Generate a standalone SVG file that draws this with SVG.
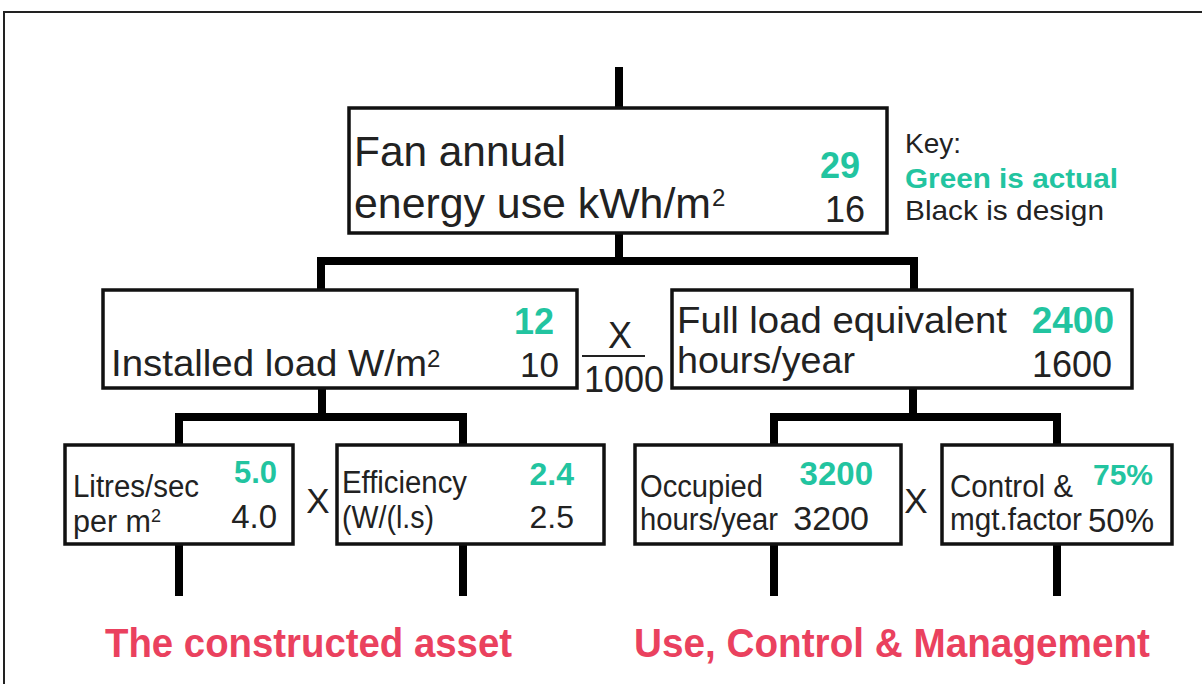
<svg xmlns="http://www.w3.org/2000/svg" width="1202" height="684" viewBox="0 0 1202 684">
<style>
text{font-family:"Liberation Sans",Arial,Helvetica,sans-serif;fill:#222}
.box{fill:#fff;stroke:#111;stroke-width:3.5}
.g{fill:#22C4A0;font-weight:bold}
.r{fill:#EA415E;font-weight:bold}
.end{text-anchor:end}
.conn{fill:none;stroke:#000;stroke-width:8;stroke-linejoin:miter;stroke-linecap:butt}
</style>
<rect width="1202" height="684" fill="#fff"/>
<path d="M4,684 V12 H1202" fill="none" stroke="#222" stroke-width="2"/>
<g id="connectors">
<path class="conn" d="M619,67 V108"/>
<path class="conn" d="M619,233 V261 M321,290 V261 H914 V290"/>
<path class="conn" d="M322,388 V417 M179,445 V417 H463 V445"/>
<path class="conn" d="M913,388 V417 M774,445 V417 H1057 V445"/>
<path class="conn" d="M179,544 V596 M463,544 V596 M774,544 V596 M1057,544 V596"/>
</g>
<g id="fan-annual">
<rect class="box" x="349" y="108" width="538" height="125"/>
<text x="354" y="166" font-size="43" textLength="212" lengthAdjust="spacingAndGlyphs">Fan annual</text>
<text x="354" y="218" font-size="43" textLength="357" lengthAdjust="spacingAndGlyphs">energy use kWh/m</text>
<text x="712" y="206" font-size="24">2</text>
<text class="g end" x="860" y="178" font-size="36">29</text>
<text class="end" x="865" y="222" font-size="36">16</text>
</g>
<g id="key">
<text x="905" y="153" font-size="28">Key:</text>
<text class="g" x="905" y="188" font-size="28" textLength="213" lengthAdjust="spacingAndGlyphs">Green is actual</text>
<text x="905" y="220" font-size="28" textLength="199" lengthAdjust="spacingAndGlyphs">Black is design</text>
</g>
<g id="installed-load">
<rect class="box" x="103" y="290" width="474" height="98"/>
<text class="g end" x="554" y="334" font-size="36">12</text>
<text x="111" y="376" font-size="36" textLength="316" lengthAdjust="spacingAndGlyphs">Installed load W/m</text>
<text x="427" y="367" font-size="24">2</text>
<text class="end" x="559" y="377" font-size="35">10</text>
</g>
<g id="multiply-1000">
<text x="620" y="348" font-size="36" text-anchor="middle">X</text>
<line x1="582" y1="356" x2="645" y2="356" stroke="#222" stroke-width="2"/>
<text x="584" y="392" font-size="36">1000</text>
</g>
<g id="full-load">
<rect class="box" x="672" y="290" width="460" height="98"/>
<text x="677" y="333" font-size="37" textLength="330" lengthAdjust="spacingAndGlyphs">Full load equivalent</text>
<text class="g end" x="1114" y="333" font-size="37">2400</text>
<text x="677" y="373" font-size="37" textLength="178" lengthAdjust="spacingAndGlyphs">hours/year</text>
<text class="end" x="1112" y="377" font-size="36">1600</text>
</g>
<g id="litres">
<rect class="box" x="65" y="445" width="228" height="99"/>
<text x="73" y="497" font-size="31" textLength="126" lengthAdjust="spacingAndGlyphs">Litres/sec</text>
<text x="73" y="532" font-size="31" textLength="78" lengthAdjust="spacingAndGlyphs">per m</text>
<text x="151" y="522" font-size="18">2</text>
<text class="g end" x="277" y="483" font-size="31">5.0</text>
<text class="end" x="277" y="528" font-size="33">4.0</text>
</g>
<text x="318" y="513" font-size="35" text-anchor="middle">X</text>
<g id="efficiency">
<rect class="box" x="337" y="445" width="267" height="99"/>
<text x="342" y="493" font-size="31" textLength="125" lengthAdjust="spacingAndGlyphs">Efficiency</text>
<text x="342" y="528" font-size="31" textLength="92" lengthAdjust="spacingAndGlyphs">(W/(l.s)</text>
<text class="g end" x="574" y="485" font-size="32">2.4</text>
<text class="end" x="574" y="528" font-size="32">2.5</text>
</g>
<g id="occupied">
<rect class="box" x="635" y="445" width="266" height="99"/>
<text x="640" y="497" font-size="31" textLength="123" lengthAdjust="spacingAndGlyphs">Occupied</text>
<text x="640" y="530" font-size="31" textLength="138" lengthAdjust="spacingAndGlyphs">hours/year</text>
<text class="g end" x="873" y="485" font-size="33">3200</text>
<text class="end" x="869" y="530" font-size="34">3200</text>
</g>
<text x="916" y="513" font-size="35" text-anchor="middle">X</text>
<g id="control">
<rect class="box" x="942" y="445" width="230" height="99"/>
<text x="950" y="497" font-size="31" textLength="123" lengthAdjust="spacingAndGlyphs">Control &amp;</text>
<text x="950" y="530" font-size="31" textLength="132" lengthAdjust="spacingAndGlyphs">mgt.factor</text>
<text class="g end" x="1153" y="485" font-size="30">75%</text>
<text class="end" x="1154" y="532" font-size="33">50%</text>
</g>
<g id="labels">
<text class="r" x="105" y="657" font-size="41" textLength="407" lengthAdjust="spacingAndGlyphs">The constructed asset</text>
<text class="r" x="634" y="657" font-size="41" textLength="516" lengthAdjust="spacingAndGlyphs">Use, Control &amp; Management</text>
</g>
</svg>
